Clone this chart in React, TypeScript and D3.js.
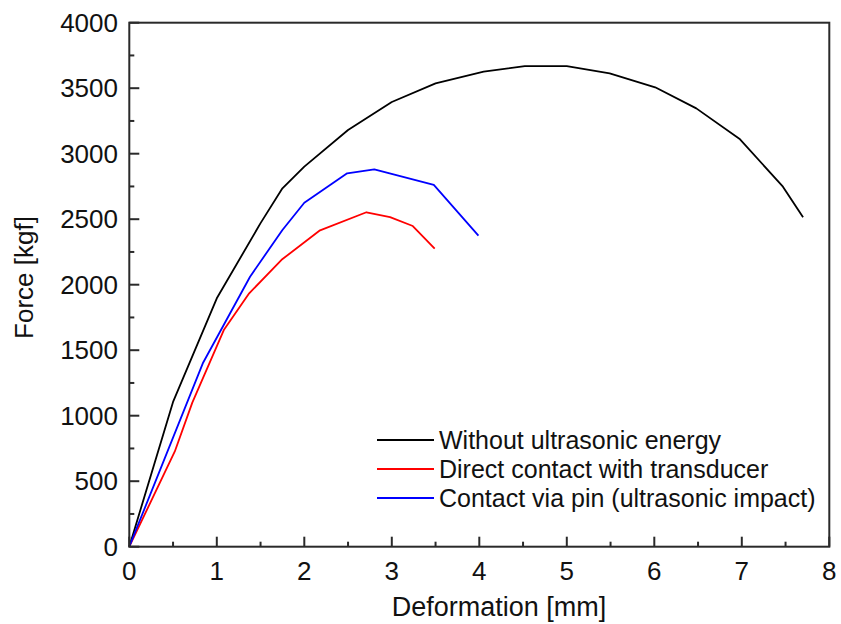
import React from "react";
import * as d3 from "d3";

const blackX = [0, 0.5, 1.0, 1.5, 1.75, 2.0, 2.5, 3.0, 3.5, 4.05, 4.52, 5.0, 5.49, 6.01, 6.48, 6.98, 7.47, 7.7];
const blackY = [0, 1105, 1896, 2470, 2736, 2901, 3181, 3395, 3537, 3626, 3669, 3669, 3614, 3507, 3346, 3110, 2748, 2515];

const redX = [0, 0.52, 0.72, 1.08, 1.37, 1.74, 2.18, 2.71, 2.98, 3.24, 3.49];
const redY = [0, 727, 1100, 1654, 1934, 2190, 2415, 2553, 2516, 2448, 2276];

const blueX = [0, 0.84, 1.38, 1.75, 2.0, 2.49, 2.8, 3.48, 3.99];
const blueY = [0, 1400, 2061, 2418, 2626, 2850, 2881, 2762, 2375];

const seriesNames = [
  "Without ultrasonic energy",
  "Direct contact with transducer",
  "Contact via pin (ultrasonic impact)",
];
const seriesColors = ["#000000", "#ff0000", "#0000ff"];

const xTicks = [0, 1, 2, 3, 4, 5, 6, 7, 8];
const yTicks = [0, 500, 1000, 1500, 2000, 2500, 3000, 3500, 4000];
const xMinor = [0.5, 1.5, 2.5, 3.5, 4.5, 5.5, 6.5, 7.5];
const yMinor = [250, 750, 1250, 1750, 2250, 2750, 3250, 3750];

const W = 841;
const H = 624;
const L = 129.3, R = 829.3, T = 22.7, B = 546.7;

export default function App() {
  const x = d3.scaleLinear().domain([0, 8]).range([L, R]);
  const y = d3.scaleLinear().domain([0, 4000]).range([B, T]);
  const line = d3
    .line<[number, number]>()
    .x((d) => x(d[0]))
    .y((d) => y(d[1]));
  const series = [
    blackX.map((v, i) => [v, blackY[i]] as [number, number]),
    redX.map((v, i) => [v, redY[i]] as [number, number]),
    blueX.map((v, i) => [v, blueY[i]] as [number, number]),
  ];
  const font = "'Liberation Sans', Arial, sans-serif";
  const axisColor = "#2a2a2a";
  const legX = 377, legY0 = 440, legDy = 29;

  return (
    <svg
      width={W}
      height={H}
      style={{ position: "absolute", left: 0, top: 0, background: "#fff" }}
      fontFamily={font}
    >
      <rect x={0} y={0} width={W} height={H} fill="#fff" />
      {series.map((s, i) => (
        <path
          key={i}
          d={line(s) || ""}
          fill="none"
          stroke={seriesColors[i]}
          strokeWidth={1.8}
          strokeLinejoin="round"
        />
      ))}
      <rect
        x={L}
        y={T}
        width={R - L}
        height={B - T}
        fill="none"
        stroke={axisColor}
        strokeWidth={2}
      />
      {xTicks.map((t) => (
        <g key={"xt" + t}>
          <line x1={x(t)} x2={x(t)} y1={B} y2={B - 10} stroke={axisColor} strokeWidth={2} />
          <text x={x(t)} y={580} textAnchor="middle" fontSize={26} fill="#111">
            {t}
          </text>
        </g>
      ))}
      {xMinor.map((t) => (
        <line key={"xm" + t} x1={x(t)} x2={x(t)} y1={B} y2={B - 5} stroke={axisColor} strokeWidth={2} />
      ))}
      {yTicks.map((t) => (
        <g key={"yt" + t}>
          <line x1={L} x2={L + 10} y1={y(t)} y2={y(t)} stroke={axisColor} strokeWidth={2} />
          <text x={118} y={y(t) + 9} textAnchor="end" fontSize={26} fill="#111">
            {t}
          </text>
        </g>
      ))}
      {yMinor.map((t) => (
        <line key={"ym" + t} x1={L} x2={L + 5} y1={y(t)} y2={y(t)} stroke={axisColor} strokeWidth={2} />
      ))}
      <text x={499} y={616} textAnchor="middle" fontSize={27} fill="#111">
        Deformation [mm]
      </text>
      <text
        transform={`translate(33,${277.5}) rotate(-90)`}
        textAnchor="middle"
        fontSize={26}
        fill="#111"
      >
        Force [kgf]
      </text>
      {seriesNames.map((n, i) => (
        <g key={n}>
          <line
            x1={legX}
            x2={legX + 57}
            y1={legY0 + i * legDy}
            y2={legY0 + i * legDy}
            stroke={seriesColors[i]}
            strokeWidth={1.8}
          />
          <text x={legX + 62} y={legY0 + i * legDy + 9} fontSize={25} fill="#111">
            {n}
          </text>
        </g>
      ))}
    </svg>
  );
}
